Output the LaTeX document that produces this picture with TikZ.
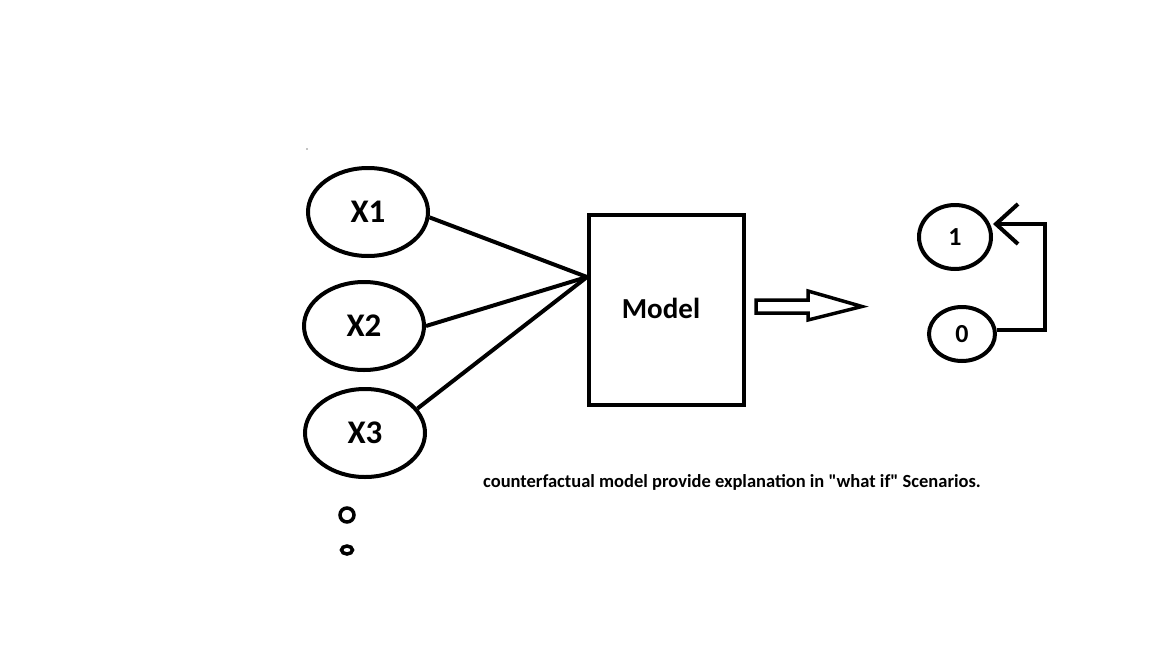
\documentclass[tikz,border=0pt]{standalone}
\usepackage{fontspec}
\setmainfont{Carlito}
\newfontfamily\plaincarlito{Carlito}[Ligatures=TeXOff]
\usetikzlibrary{shapes,arrows.meta}

\begin{document}
\begin{tikzpicture}[x=1pt, y=-1pt, line width=4pt,
  feature/.style={ellipse, draw, inner sep=0pt, minimum width=120pt,
    minimum height=88pt, font=\bfseries\fontsize{33}{38}\selectfont},
  outcome/.style={ellipse, draw, inner sep=0pt,
    font=\bfseries\fontsize{26}{30}\selectfont},
  dotmark/.style={ellipse, draw, inner sep=0pt, line width=3.5pt}]

\useasboundingbox (0,0) rectangle (1152,648);
\fill[white] (0,0) rectangle (1152,648);

% inputs
\node[feature] (x1) at (368,212) {X1};
\node[feature] (x2) at (364,326) {X2};
\node[feature] (x3) at (365,433) {X3};
\node[dotmark, minimum width=14pt, minimum height=14pt] (d1) at (347,515) {};
\node[dotmark, minimum width=11pt, minimum height=8pt] (d2) at (347,550) {};
\fill (307,149) circle (0.7pt);

% model
\node[draw, minimum width=155pt, minimum height=190pt] (model) at (666.5,310) {};
\node[font=\bfseries\fontsize{29}{33}\selectfont] (mlabel) at (661,308) {Model};
\coordinate (in) at (587,277);

\draw (x1.-5) -- (in);
\draw (x2.east) -- (in);
\draw (x3.25) -- (in);

% hollow arrow
\draw[line width=3.5pt, line join=miter]
  (756,300) -- (808,300) -- (808,291) -- (862,306.5)
  -- (808,320) -- (808,313) -- (756,313) -- cycle;

% outputs
\node[outcome, minimum width=72pt, minimum height=64pt] (one) at (955,237) {1};
\node[outcome, minimum width=66pt, minimum height=54pt] (zero) at (962,334) {0};
\coordinate (turn1) at (1045,330);
\coordinate (turn2) at (1045,224);
\draw[-{Straight Barb[length=22pt, width=40pt]}]
  (zero.east |- turn1) -- (turn1) -- (turn2) -- (one.east |- turn2);

\node[font=\plaincarlito\bfseries\fontsize{18.5}{22}\selectfont] (caption) at (732,482)
  {counterfactual model provide explanation in "what if" Scenarios.};

\end{tikzpicture}
\end{document}
